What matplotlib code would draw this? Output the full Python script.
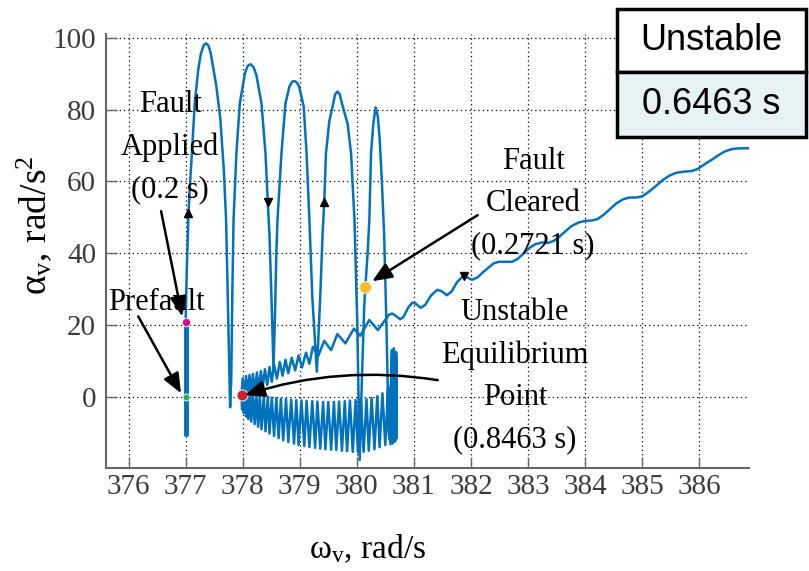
import numpy as np
import matplotlib
matplotlib.use('Agg')
from matplotlib import pyplot as plt
from matplotlib.patches import Rectangle

plt.rcParams['font.family'] = ['Liberation Serif', 'DejaVu Serif']
plt.rcParams['mathtext.fontset'] = 'custom'
plt.rcParams['mathtext.rm'] = 'Liberation Serif'
plt.rcParams['mathtext.it'] = 'Liberation Serif:italic'

# pre-fault operating point, speed held at nominal
prefault_w = [377.0, 377.0]
prefault_a = [-11.0, 20.8]

# fault on: big acceleration arches until clearing and the swing back down
fault_w = [377.00, 377.02, 377.05, 377.08, 377.11, 377.16, 377.22, 377.27, 377.32, 377.36,
           377.40, 377.44, 377.54, 377.61, 377.67, 377.71, 377.74, 377.77, 377.78, 377.80,
           377.82, 377.84, 377.89, 377.95, 378.04, 378.09, 378.14, 378.19, 378.24, 378.33,
           378.40, 378.44, 378.47, 378.51, 378.54, 378.57, 378.59, 378.61, 378.68, 378.75,
           378.82, 378.87, 378.91, 378.95, 378.99, 379.07, 379.12, 379.17, 379.22, 379.30,
           379.36, 379.40, 379.43, 379.46, 379.52, 379.58, 379.62, 379.66, 379.70, 379.75,
           379.84, 379.90, 379.96, 380.01, 380.05, 380.09, 380.13, 380.15, 380.19, 380.22,
           380.25, 380.29, 380.33, 380.37, 380.40, 380.44, 380.48, 380.52, 380.56]
fault_a = [20.8, 35.0, 51.1, 60.0, 67.8, 81.7, 91.0, 95.7, 98.0, 98.4,
           97.8, 95.7, 86.4, 77.1, 63.1, 49.2, 27.0, 5.0, -2.9, 5.0,
           30.0, 49.2, 67.8, 81.7, 90.1, 92.2, 92.6, 91.8, 89.6, 81.7,
           67.8, 54.3, 45.0, 25.0, 8.0, 25.0, 40.0, 49.2, 67.8, 81.7,
           86.4, 87.8, 87.9, 87.5, 86.4, 80.8, 67.8, 49.2, 28.0, 7.0,
           28.0, 45.0, 54.3, 67.8, 76.9, 81.1, 84.2, 85.0, 84.3, 81.1,
           76.0, 67.8, 49.2, 20.0, -17.6, 5.0, 25.0, 30.5, 40.0, 49.2,
           67.8, 76.0, 80.6, 78.0, 72.0, 60.0, 45.0, 20.0, -10.0]

# right end of the post-fault loop
turn_w = [380.58, 380.61, 380.63, 380.65, 380.67, 380.69, 380.70, 380.69, 380.67, 380.65,
          380.63, 380.61, 380.59]
turn_a = [-12.0, 13.0, -12.5, 13.5, -12.0, 12.5, -11.5, 11.0, -12.5, 9.0,
          -13.0, 6.0, -13.2]

# decelerating half of the loop (speed falling back towards 378)
lower_w = [380.55, 380.50, 380.45, 380.40, 380.36, 380.31, 380.26, 380.21, 380.17, 380.12,
           380.07, 380.02, 379.98, 379.93, 379.88, 379.83, 379.79, 379.74, 379.69, 379.64,
           379.60, 379.55, 379.50, 379.45, 379.41, 379.36, 379.31, 379.27, 379.22, 379.17,
           379.12, 379.08, 379.03, 378.98, 378.94, 378.90, 378.85, 378.80, 378.76, 378.71,
           378.67, 378.63, 378.59, 378.55, 378.51, 378.47, 378.44, 378.40, 378.37, 378.33,
           378.30, 378.27, 378.24, 378.21, 378.18, 378.15, 378.13, 378.10, 378.08, 378.06,
           378.04, 378.02, 378.01, 377.99]
lower_a = [3.0, -13.4, 1.0, -14.0, 0.2, -14.6, -0.3, -15.0, -0.6, -15.3,
           -0.8, -15.4, -0.9, -15.3, -1.0, -15.1, -1.2, -15.0, -1.3, -14.8,
           -1.4, -14.7, -1.4, -14.6, -1.4, -14.4, -1.3, -14.2, -1.2, -14.0,
           -1.1, -13.7, -1.0, -13.4, -0.9, -13.0, -0.8, -12.6, -0.6, -12.1,
           -0.5, -11.5, -0.3, -10.9, -0.2, -10.2, 0.0, -9.6, 0.2, -9.0,
           0.4, -8.3, 0.6, -7.6, 0.9, -6.9, 1.2, -6.2, 1.6, -5.5,
           2.0, -4.5, 2.5, -3.5]

# accelerating half after the unstable equilibrium point
upper_w = [377.98, 378.00, 378.03, 378.06, 378.09, 378.12, 378.15, 378.18, 378.21, 378.25,
           378.28, 378.32, 378.35, 378.39, 378.43, 378.47, 378.51, 378.55, 378.60, 378.65,
           378.70, 378.75, 378.80, 378.86, 378.92, 378.98, 379.04, 379.11, 379.17, 379.23,
           379.33, 379.43, 379.55, 379.66, 379.80, 379.95, 380.06, 380.22, 380.37]
upper_a = [0.5, 5.2, 0.3, 5.8, 0.6, 6.1, 0.9, 6.4, 1.3, 6.8,
           1.8, 7.2, 2.5, 7.7, 3.3, 8.3, 4.2, 9.0, 5.1, 9.7,
           5.9, 10.3, 6.6, 10.9, 7.4, 11.5, 8.2, 12.3, 9.2, 13.9,
           11.6, 15.6, 13.0, 17.5, 14.9, 19.0, 17.0, 21.4, 18.6]

# loss of synchronism
diverge_w = [380.50, 380.56, 380.62, 380.68, 380.76, 380.82, 380.90, 380.97, 381.03, 381.12,
             381.20, 381.30, 381.41, 381.49, 381.58, 381.66, 381.76, 381.85, 381.93, 382.02,
             382.12, 382.22, 382.31, 382.40, 382.49, 382.60, 382.72, 382.82, 382.92, 383.03,
             383.13, 383.25, 383.36, 383.45, 383.55, 383.65, 383.76, 383.88, 384.00, 384.12,
             384.22, 384.32, 384.44, 384.56, 384.67, 384.78, 384.90, 385.00, 385.11, 385.22,
             385.36, 385.48, 385.60, 385.74, 385.88, 385.98, 386.10, 386.21, 386.34, 386.46,
             386.58, 386.70, 386.86]
diverge_a = [21.5, 22.8, 23.2, 22.6, 21.6, 22.3, 24.8, 26.2, 26.0, 24.8,
             25.6, 28.2, 29.8, 29.4, 28.3, 29.3, 32.0, 33.4, 33.3, 32.6,
             33.3, 34.8, 36.0, 37.2, 37.6, 37.6, 37.6, 38.4, 39.9, 41.5,
             42.5, 43.0, 42.9, 43.4, 44.6, 46.0, 47.5, 48.5, 49.0, 49.1,
             49.5, 50.6, 52.3, 54.0, 55.0, 55.5, 55.5, 55.8, 57.0, 58.4,
             60.3, 61.6, 62.4, 62.7, 62.9, 63.5, 64.8, 65.9, 67.3, 68.4,
             69.0, 69.2, 69.2]

# direction markers along the trajectory
dir_w = [377.05, 378.44, 379.43, 381.88]
dir_a = [51.1, 54.3, 54.3, 33.6]
dir_m = ['^', 'v', '^', 'v']

# event points: prefault, fault applied, fault cleared, UEP
ev_w = [377.0, 377.0, 380.15, 377.99]
ev_a = [0.0, 20.8, 30.5, 0.5]
ev_c = ['#22b14c', '#e4007c', '#ffbf1f', '#c8232c']
ev_s = [5, 6, 8.5, 8]

blue = '#0072bd'

fig = plt.figure(figsize=(8.09, 5.71), dpi=100)
ax = fig.add_axes([0.1307, 0.1804, 0.7955, 0.7599])

traj_w = np.concatenate([fault_w, turn_w, lower_w, upper_w, diverge_w])
traj_a = np.concatenate([fault_a, turn_a, lower_a, upper_a, diverge_a])
ax.plot(prefault_w, prefault_a, color=blue, lw=3.5, solid_capstyle='butt', zorder=3)
ax.plot(traj_w, traj_a, color=blue, lw=1.8, zorder=3)

for w, a, m in zip(dir_w, dir_a, dir_m):
    ax.plot(w, a, marker=m, ms=5.5, color='k', ls='none', zorder=4)
for w, a, c, s in zip(ev_w, ev_a, ev_c, ev_s):
    ax.plot(w, a, marker='o', ms=s, color=c, mec='#d8e6f0', mew=0.8, ls='none', zorder=5)

ax.set_xlim(375.6, 386.88)
ax.set_ylim(-19.8, 101)
ax.set_xticks(np.arange(376, 387, 1))
ax.set_yticks(np.arange(0, 101, 20))
ax.grid(True, color='k', lw=0.9, linestyle=(0, (1, 2.5)))
ax.tick_params(direction='in', length=8, width=1, colors='#666666',
               labelcolor='#3c3c3c', labelsize=21)
ax.tick_params(axis='x', pad=4)
ax.tick_params(axis='y', pad=7)
for s in ['top', 'right']:
    ax.spines[s].set_visible(False)
for s in ['left', 'bottom']:
    ax.spines[s].set_color('#666666')
    ax.spines[s].set_linewidth(1.5)

ax.set_xlabel(r'ω$_{\rm v}$, rad/s', fontsize=24)
ax.set_ylabel(r'α$_{\rm v}$, rad/s$^{2}$', fontsize=27)
ax.xaxis.set_label_coords(0.4075, -0.148)
ax.yaxis.set_label_coords(-0.08, 0.56)

# annotations
tsize = 22
ax.text(376.49, 26.4, 'Prefault', fontsize=tsize, ha='center', va='center')
ax.text(376.73, 69.5, 'Fault\nApplied\n(0.2 s)', fontsize=tsize, ha='center', va='center',
        linespacing=1.6)
ax.text(383.09, 53.7, 'Fault\nCleared\n(0.2721 s)', fontsize=tsize, ha='center', va='center',
        linespacing=1.6)
ax.text(382.77, 5.8, 'Unstable\nEquilibrium\nPoint\n(0.8463 s)', fontsize=tsize,
        ha='center', va='center', linespacing=1.6)

arr = dict(arrowstyle='-|>,head_length=0.6,head_width=0.25', color='k', lw=1.8,
           mutation_scale=20, shrinkA=0, shrinkB=0)
ax.annotate('', xy=(376.92, 1.0), xytext=(376.17, 22.4), arrowprops=arr, zorder=6)
ax.annotate('', xy=(376.94, 22.4), xytext=(376.57, 51.7), arrowprops=arr, zorder=6)
ax.annotate('', xy=(380.27, 32.2), xytext=(382.12, 50.6), arrowprops=arr, zorder=6)
ax.annotate('', xy=(378.04, 0.5), xytext=(381.42, 4.65),
            arrowprops=dict(arr, connectionstyle='arc3,rad=0.12'), zorder=6)

# stability result box
fig.add_artist(Rectangle((0.7627, 0.8739), 0.2336, 0.1103, transform=fig.transFigure,
                         fc='white', ec='k', lw=2.5))
fig.add_artist(Rectangle((0.7627, 0.7601), 0.2336, 0.1138, transform=fig.transFigure,
                         fc='#e6f2f4', ec='k', lw=2.5))
fig.text(0.8795, 0.929, 'Unstable', family='Liberation Sans', fontsize=26,
         ha='center', va='center')
fig.text(0.8795, 0.817, '0.6463 s', family='Liberation Sans', fontsize=26,
         ha='center', va='center')

fig.savefig('out.png', dpi=100)
